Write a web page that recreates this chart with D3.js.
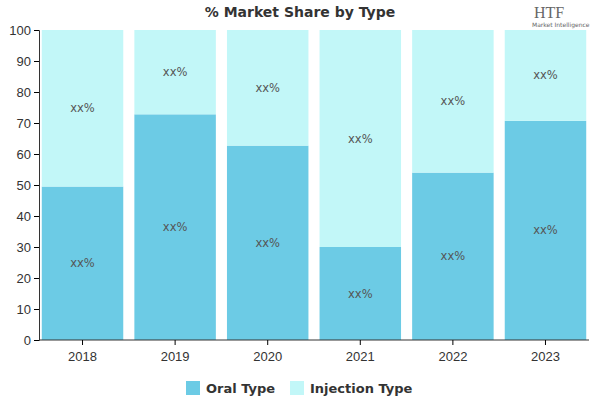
<!DOCTYPE html>
<html><head><meta charset="utf-8">
<script src="https://cdn.jsdelivr.net/npm/d3@7"></script>
<style>body{margin:0;background:#fff;font-family:"DejaVu Sans",sans-serif}</style>
</head><body>
<script>
const years = ["2018", "2019", "2020", "2021", "2022", "2023"];
const oral = [49.5, 72.8, 62.7, 30, 54, 70.7];
const injection = [50.5, 27.2, 37.3, 70, 46, 29.3];
const seriesNames = ["Oral Type", "Injection Type"];
const colors = ["#6ccbe5", "#c2f7f8"];
const yTicks = [0, 10, 20, 30, 40, 50, 60, 70, 80, 90, 100];

const svg = d3.select("body").append("svg").attr("width", 600).attr("height", 400);
const x = d3.scaleBand().domain(years).range([39, 589]).paddingInner(0.12).paddingOuter(0.03);
const y = d3.scaleLinear().domain([0, 100]).range([340, 30]);

// y axis
const ya = svg.append("g").attr("transform", "translate(39,0)")
  .call(d3.axisLeft(y).tickValues(yTicks).tickSize(5));
ya.select(".domain").attr("stroke", "#333");
ya.selectAll("text").attr("font-size", 13).attr("fill", "#333");

// bars
const data = years.map((yr, i) => ({ yr, vals: [oral[i], injection[i]] }));
data.forEach(d => {
  let base = 0;
  d.vals.forEach((v, k) => {
    svg.append("rect").attr("x", x(d.yr)).attr("width", x.bandwidth())
      .attr("y", y(base + v)).attr("height", y(base) - y(base + v)).attr("fill", colors[k]);
    svg.append("text").attr("x", x(d.yr) + x.bandwidth() / 2).attr("y", y(base + v / 2) + 4)
      .attr("text-anchor", "middle").attr("font-size", 11.5).attr("fill", "#555").text("xx%");
    base += v;
  });
});

// x axis
const xa = svg.append("g").attr("transform", "translate(0,340)")
  .call(d3.axisBottom(x).tickSize(5));
xa.select(".domain").attr("stroke", "#333").attr("d", "M39,0H589");
xa.selectAll("text").attr("font-size", 13).attr("fill", "#333").attr("dy", "1em");

// title
svg.append("text").attr("x", 300).attr("y", 17).attr("text-anchor", "middle")
  .attr("font-size", 14).attr("font-weight", "bold").attr("fill", "#333").text("% Market Share by Type");

// logo
svg.append("text").attr("x", 534).attr("y", 18).attr("font-size", 16).attr("font-family", "Liberation Serif")
  .attr("fill", "#666").text("HTF");
svg.append("text").attr("x", 532).attr("y", 27).attr("font-size", 6).attr("fill", "#666").text("Market Intelligence");

// legend
const lg = svg.append("g");
const lx = [186, 290];
seriesNames.forEach((n, k) => {
  lg.append("rect").attr("x", lx[k]).attr("y", 381).attr("width", 14).attr("height", 14).attr("fill", colors[k]);
  lg.append("text").attr("x", lx[k] + 20).attr("y", 393).attr("font-size", 13).attr("font-weight", "bold")
    .attr("fill", "#333").text(n);
});
</script>
</body></html>
